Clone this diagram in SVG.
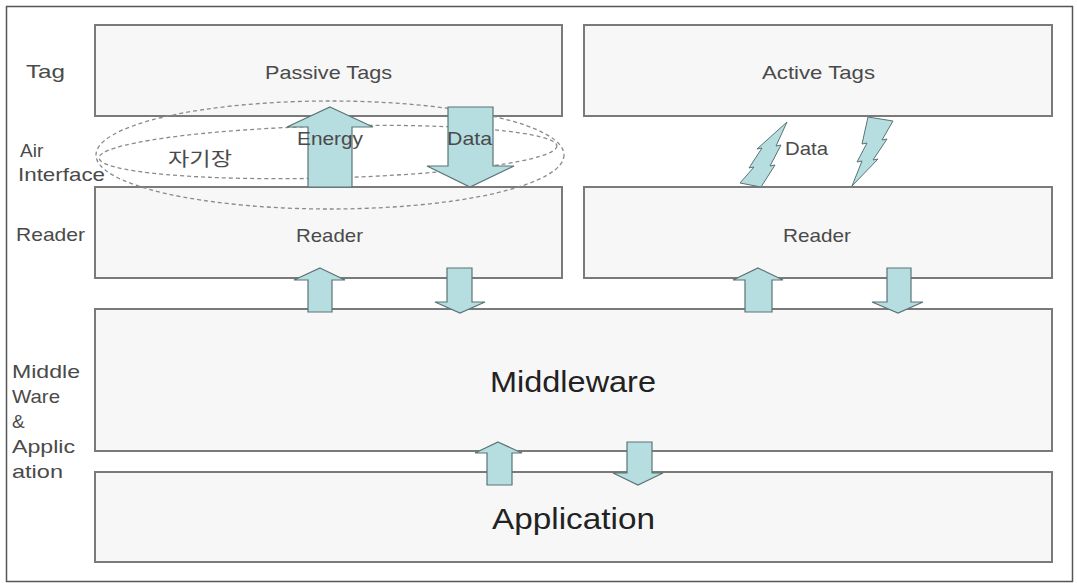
<svg xmlns="http://www.w3.org/2000/svg" width="1077" height="583" viewBox="0 0 1077 583">
<style>
.box{fill:#f7f7f7;stroke:#7a7a7a;stroke-width:2}
.lbl{font-family:"Liberation Sans",Arial,sans-serif;font-size:19px;fill:#4a4a4a}
.big{font-family:"Liberation Sans",Arial,sans-serif;font-size:29px;fill:#222}
.kr{font-family:"Liberation Sans","Noto Sans CJK KR",sans-serif;font-size:19px;fill:#4a4a4a}
.arr{fill:#b6dde0;stroke:#5a7474;stroke-width:1.2;stroke-linejoin:miter}
.bolt{fill:#b6dde0;stroke:#5a7474;stroke-width:1}
.field{fill:none;stroke:#8a8a8a;stroke-width:1.3;stroke-dasharray:4 3}
</style>
<rect x="0" y="0" width="1077" height="583" fill="#fff"/>
<rect x="6.5" y="6.5" width="1066" height="575" fill="#fff" stroke="#555" stroke-width="1.5"/>

<g id="side-labels">
<text class="lbl" x="26" y="78" textLength="39" lengthAdjust="spacingAndGlyphs">Tag</text>
<text class="lbl" x="20" y="157">Air</text>
<text class="lbl" x="18" y="181" textLength="87" lengthAdjust="spacingAndGlyphs">Interface</text>
<text class="lbl" x="16" y="241" textLength="69" lengthAdjust="spacingAndGlyphs">Reader</text>
<text class="lbl" x="12" y="378" textLength="68" lengthAdjust="spacingAndGlyphs">Middle</text>
<text class="lbl" x="12" y="403" textLength="48" lengthAdjust="spacingAndGlyphs">Ware</text>
<text class="lbl" x="12" y="428">&amp;</text>
<text class="lbl" x="12" y="453" textLength="63" lengthAdjust="spacingAndGlyphs">Applic</text>
<text class="lbl" x="12" y="478" textLength="51" lengthAdjust="spacingAndGlyphs">ation</text>
</g>

<g id="passive-tags">
<rect class="box" x="95" y="25" width="467" height="91"/>
<text class="lbl" x="265" y="79" textLength="127" lengthAdjust="spacingAndGlyphs">Passive Tags</text>
</g>
<g id="active-tags">
<rect class="box" x="584" y="25" width="468" height="91"/>
<text class="lbl" x="762" y="79" textLength="113" lengthAdjust="spacingAndGlyphs">Active Tags</text>
</g>
<g id="reader-passive">
<rect class="box" x="95" y="187" width="467" height="91"/>
<text class="lbl" x="296" y="242" textLength="67" lengthAdjust="spacingAndGlyphs">Reader</text>
</g>
<g id="reader-active">
<rect class="box" x="584" y="187" width="468" height="91"/>
<text class="lbl" x="783" y="242" textLength="68" lengthAdjust="spacingAndGlyphs">Reader</text>
</g>
<g id="middleware">
<rect class="box" x="95" y="309" width="957" height="142"/>
<text class="big" x="490" y="392" textLength="166" lengthAdjust="spacingAndGlyphs">Middleware</text>
</g>
<g id="application">
<rect class="box" x="95" y="472" width="957" height="90"/>
<text class="big" x="492" y="529" textLength="163" lengthAdjust="spacingAndGlyphs">Application</text>
</g>

<g id="air-field">
<ellipse class="field" cx="330" cy="155" rx="234" ry="54"/>
<ellipse class="field" cx="328" cy="152" rx="229" ry="26" transform="rotate(-1.5 328 152)"/>
<text class="kr" x="168" y="166" textLength="64" lengthAdjust="spacingAndGlyphs">자기장</text>
</g>

<g id="connectors">
<path class="arr" d="M330,107 L373,127 L352,127 L352,187 L308,187 L308,127 L287,127 Z"/>
<path class="arr" d="M448,107 L493,107 L493,166 L514,166 L470,187 L427,166 L448,166 Z"/>
<text class="lbl" x="297" y="145" textLength="66" lengthAdjust="spacingAndGlyphs">Energy</text>
<text class="lbl" x="447" y="145" textLength="45" lengthAdjust="spacingAndGlyphs">Data</text>

<path class="bolt" d="M787,122 L776,146 L781,145 L770,166 L775,165 L761,187 L740,183 L754,167 L749,168 L762,148 L757,149 Z"/>
<path class="bolt" d="M868,117 L893,121 L882,140 L887,139 L873,160 L878,159 L852,186 L862,161 L857,162 L867,143 L862,144 Z"/>
<text class="lbl" x="785" y="155" textLength="43" lengthAdjust="spacingAndGlyphs">Data</text>

<path class="arr" d="M320,268 L345,280 L332,280 L332,312 L308,312 L308,280 L294,280 Z"/>
<path class="arr" d="M447,268 L472,268 L472,302 L485,302 L460,313 L435,302 L447,302 Z"/>
<path class="arr" d="M758,268 L783,280 L772,280 L772,312 L745,312 L745,280 L733,280 Z"/>
<path class="arr" d="M887,268 L911,268 L911,302 L923,302 L898,313 L872,302 L887,302 Z"/>
<path class="arr" d="M498,442 L522,453 L512,453 L512,485 L487,485 L487,453 L475,453 Z"/>
<path class="arr" d="M627,442 L652,442 L652,473 L663,473 L638,485 L613,473 L627,473 Z"/>
</g>
</svg>
